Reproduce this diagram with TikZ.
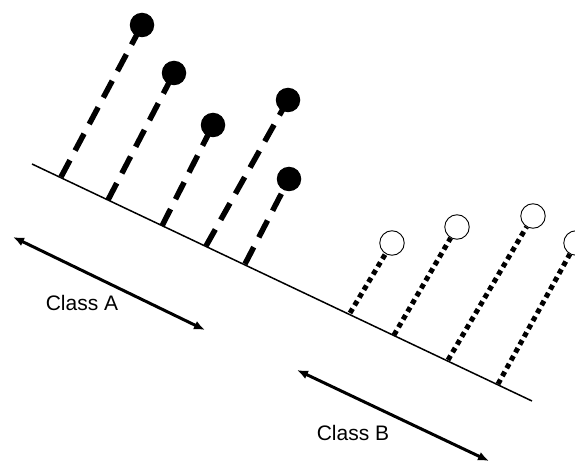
\documentclass[tikz,border=0pt]{standalone}
\usepackage{fontspec}
\setmainfont{Liberation Sans}
\usepackage{tikz}
\usetikzlibrary{arrows.meta}

\begin{document}
\begin{tikzpicture}[x=1pt,y=-1pt,
	classa/.style={circle, fill=black, inner sep=0pt, minimum size=24.5pt},
	classb/.style={circle, draw=black, line width=0.9pt, inner sep=0pt, minimum size=24.5pt},
	dashA/.style={line width=5.5pt, dash pattern=on 19pt off 11pt},
	dotB/.style={line width=5pt, dash pattern=on 5pt off 4pt},
	span/.style={line width=3pt, {Latex[length=11pt,width=9pt]}-{Latex[length=11pt,width=9pt]}}]
	\path[use as bounding box, clip] (0,0) rectangle (575,462);
	
	% axis
	\coordinate (L) at (32,164);
	\coordinate (R) at (532,401);
	\draw[line width=1.5pt] (L) -- (R);
	
	% class A points
	\node[classa] (a1) at (142,25) {};
	\node[classa] (a2) at (174,73) {};
	\node[classa] (a3) at (213,125) {};
	\node[classa] (a4) at (288,100) {};
	\node[classa] (a5) at (289,179) {};
	\coordinate (pa1) at (61,177);
	\coordinate (pa2) at (108,200);
	\coordinate (pa3) at (162,226);
	\coordinate (pa4) at (206,246);
	\coordinate (pa5) at (245,264);
	\foreach \i in {1,...,5}
		\draw[dashA] (pa\i) -- (a\i.center);
	
	% class B points
	\node[classb] (b1) at (392,243) {};
	\node[classb] (b2) at (457,227) {};
	\node[classb] (b3) at (533,216) {};
	\node[classb] (b4) at (576,243) {};
	\coordinate (pb1) at (350,313);
	\coordinate (pb2) at (394,335);
	\coordinate (pb3) at (448,360);
	\coordinate (pb4) at (498,384);
	\foreach \i in {1,...,4}
		\draw[dotB] (pb\i) -- (b\i);
	
	% extents
	\coordinate (sa1) at (13,237);
	\coordinate (sa2) at (205,330);
	\coordinate (sb1) at (297,370);
	\coordinate (sb2) at (489,461);
	\draw[span] (sa1) -- (sa2);
	\draw[span] (sb1) -- (sb2);
	\node[font=\fontsize{21}{25}\selectfont] (ta) at (82,303) {Class A};
	\node[font=\fontsize{21}{25}\selectfont] (tb) at (353,433) {Class B};
\end{tikzpicture}
\end{document}
